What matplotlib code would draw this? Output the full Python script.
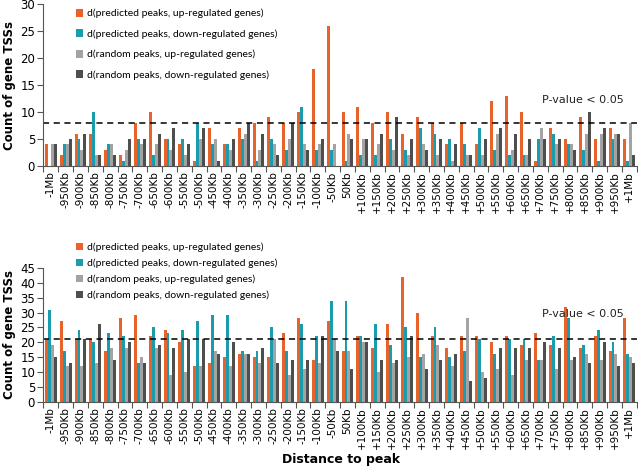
import numpy as np
import matplotlib.pyplot as plt

# distance bins (labels) - 40 bins, no zero
labels = ['-1Mb'] + ['-%dKb' % d for d in range(950, 0, -50)] + ['50Kb'] + \
         ['+%dKb' % d for d in range(100, 1000, 50)] + ['+1Mb']

# top panel
top_pred_up = [4, 2, 6, 6, 3, 2, 8, 10, 5, 4, 1, 7, 4, 7, 8, 9, 8, 10, 18, 26,
               10, 11, 8, 10, 6, 9, 8, 4, 8, 4, 12, 13, 10, 1, 7, 5, 9, 5, 7, 5]
top_pred_down = [0, 4, 5, 10, 4, 1, 5, 2, 5, 5, 8, 4, 4, 5, 1, 5, 3, 11, 3, 3,
                 1, 2, 2, 5, 3, 7, 6, 5, 4, 7, 3, 2, 2, 5, 6, 4, 3, 1, 5, 1]
top_rand_up = [4, 4, 3, 2, 4, 3, 4, 4, 3, 2, 5, 5, 3, 6, 3, 4, 5, 4, 4, 4,
               6, 5, 4, 3, 2, 4, 2, 1, 2, 2, 6, 3, 2, 7, 4, 4, 6, 6, 6, 8]
top_rand_down = [4, 5, 6, 2, 2, 5, 5, 6, 7, 4, 7, 1, 5, 8, 6, 2, 8, 3, 5, 0,
                 5, 5, 6, 9, 5, 3, 5, 4, 2, 5, 7, 6, 5, 5, 5, 3, 10, 7, 6, 2]

# bottom panel
bot_pred_up = [21, 27, 21, 21, 17, 28, 29, 22, 24, 20, 12, 13, 15, 16, 15, 15, 23, 28, 14, 27,
               17, 22, 18, 26, 42, 30, 22, 18, 22, 22, 20, 22, 19, 23, 19, 32, 18, 22, 17, 28]
bot_pred_down = [31, 17, 24, 20, 23, 22, 13, 25, 23, 24, 27, 29, 29, 17, 17, 25, 17, 26, 22, 34,
                 34, 22, 26, 19, 25, 15, 25, 15, 17, 21, 16, 21, 21, 14, 22, 28, 19, 24, 20, 16]
bot_rand_up = [19, 12, 12, 13, 18, 18, 15, 18, 9, 10, 12, 17, 12, 16, 13, 21, 9, 11, 13, 21,
               17, 20, 10, 13, 15, 16, 19, 12, 28, 10, 11, 9, 14, 14, 11, 14, 16, 14, 16, 15]
bot_rand_down = [15, 13, 21, 26, 14, 20, 13, 19, 18, 21, 21, 16, 20, 16, 18, 13, 14, 14, 22, 17,
                 11, 20, 14, 14, 22, 11, 14, 16, 7, 8, 18, 18, 18, 20, 18, 15, 13, 20, 12, 13]

series_names = ['d(predicted peaks, up-regulated genes)',
                'd(predicted peaks, down-regulated genes)',
                'd(random peaks, up-regulated genes)',
                'd(random peaks, down-regulated genes)']
colors = ['#E8622C', '#1B9BAE', '#A3A3A3', '#4E4E4E']

fig = plt.figure(figsize=(6.38, 4.69), dpi=100)
ax1 = fig.add_axes([0.068, 0.646, 0.930, 0.345])
ax2 = fig.add_axes([0.068, 0.143, 0.930, 0.286])

x = np.arange(len(labels)) + 0.5
w = 0.2
offsets = [-0.3, -0.1, 0.1, 0.3]


def draw_panel(ax, data, ymax, thresh, text_y, legend_anchor, label_gap):
    for vals, off, c, name in zip(data, offsets, colors, series_names):
        ax.bar(x + off, vals, width=w, color=c, label=name, linewidth=0)
    ax.axhline(thresh, color='black', linestyle=(0, (4, 3)), linewidth=1.1)
    ax.text(33.6, text_y, 'P-value < 0.05', fontsize=8, color='#222222')
    ax.set_xlim(0, 40)
    ax.set_ylim(0, ymax)
    ax.set_yticks(np.arange(0, ymax + 1, 5))
    ax.set_xticks(np.arange(0, 41))
    ax.set_xticklabels([])
    ax.set_xticks(x, minor=True)
    ax.set_xticklabels(labels, minor=True, rotation=90, fontsize=7.5)
    ax.tick_params(axis='x', which='minor', length=0, pad=4)
    ax.tick_params(axis='x', which='major', length=4, color='#555555')
    ax.tick_params(axis='y', labelsize=8.5, length=4, color='#555555', pad=2)
    for s in ['top', 'right']:
        ax.spines[s].set_visible(False)
    ax.spines['left'].set_color('#555555')
    ax.spines['bottom'].set_color('#555555')
    ax.set_ylabel('Count of gene TSSs', fontsize=8.5, fontweight='bold', labelpad=3)
    leg = ax.legend(loc='upper left', bbox_to_anchor=legend_anchor,
                    bbox_transform=fig.transFigure, frameon=False,
                    handlelength=0.75, handleheight=0.75, handletextpad=0.3,
                    labelspacing=label_gap, borderaxespad=0,
                    prop={'family': 'Lato', 'size': 7.5})
    return leg


draw_panel(ax1, [top_pred_up, top_pred_down, top_rand_up, top_rand_down],
           30, 8, 11.6, (0.112, 0.99), 1.05)
draw_panel(ax2, [bot_pred_up, bot_pred_down, bot_rand_up, bot_rand_down],
           45, 21, 28.5, (0.112, 0.492), 0.62)

fig.text(0.535, 0.013, 'Distance to peak', ha='center', fontsize=9, fontweight='bold')

plt.savefig('out.png', dpi=100)
